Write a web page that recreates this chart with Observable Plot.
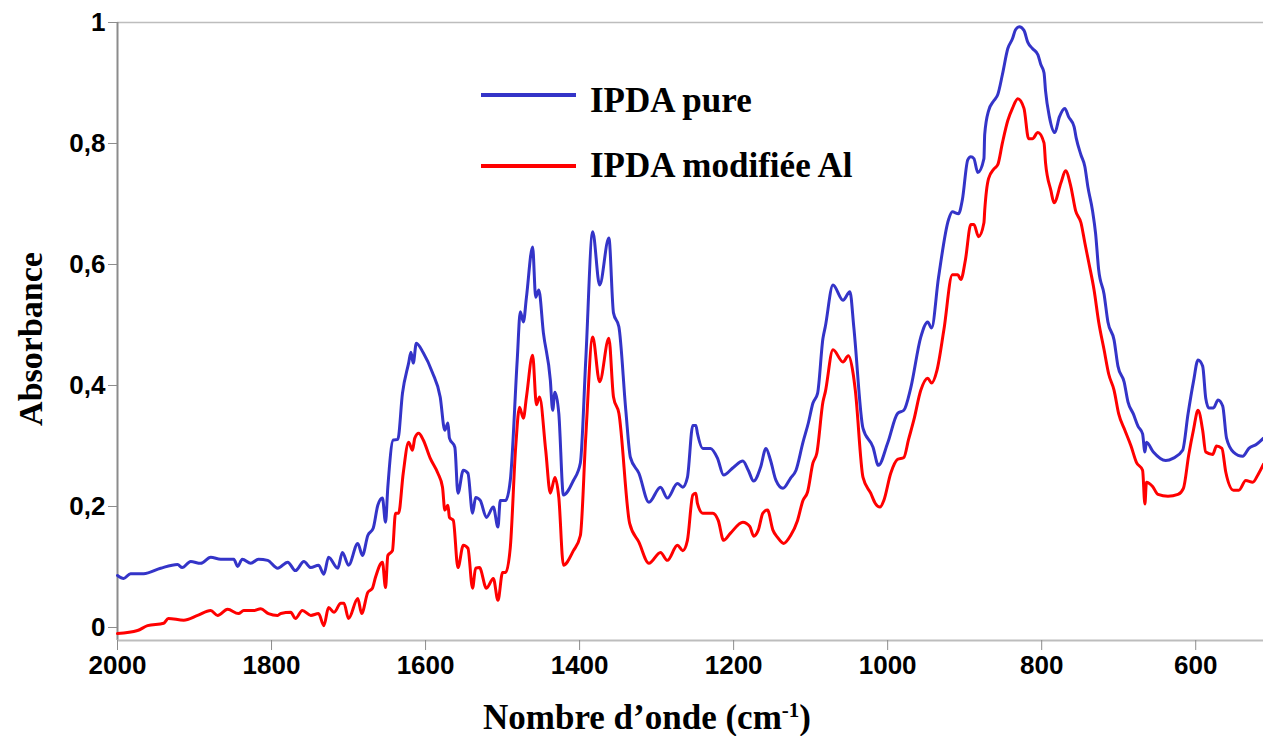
<!DOCTYPE html>
<html>
<head>
<meta charset="utf-8">
<script src="https://cdn.jsdelivr.net/npm/d3@7"></script>
<script src="https://cdn.jsdelivr.net/npm/@observablehq/plot@0.6"></script>
<style>
  html, body { margin: 0; padding: 0; background: #fff; }
  #wrap { position: relative; width: 1263px; height: 736px; overflow: hidden; }
  #overlay { position: absolute; left: 0; top: 0; pointer-events: none; }
</style>
</head>
<body>
<div id="wrap"></div>
<script>
// ---- Data ----
const seriesNames = ["IPDA pure", "IPDA modifiée Al"];
const seriesColors = ["#3434c8", "#ff0000"];

const purWave = [2000,1992,1983,1966,1944,1922,1916,1905,1892,1879,1866,1849,1844,1838,1827,1817,1805,1792,1779,1769,1758,1749,1739,1732,1726,1714,1708,1700,1688,1682,1675,1668,1662,1656,1652,1649,1642,1636,1630,1622,1619,1616,1612,1603,1591,1581,1575,1571,1569,1562,1558,1551,1545,1539,1535,1529,1521,1512,1506,1503,1496,1490,1481,1477,1473,1469,1461,1457,1453,1447,1438,1435,1432,1427,1421,1408,1399,1392,1383,1374,1362,1356,1349,1340,1334,1323,1310,1295,1286,1273,1266,1260,1253,1249,1247,1240,1230,1221,1213,1200,1188,1181,1174,1165,1158,1152,1145,1136,1126,1119,1110,1103,1097,1091,1084,1081,1071,1058,1049,1044,1032,1019,1012,1000,987,979,970,957,948,943,934,921,916,908,903,896,892,888,883,875,874,869,862,857,851,844,838,834,829,823,818,812,805,801,797,795,790,783,777,770,765,758,755,749,744,740,734,730,726,719,714,706,701,693,688,681,675,669,666,664,655,639,629,617,610,603,597,591,587,583,577,571,565,560,551,539,531,521,512];
const purAbs = [0.086,0.081,0.089,0.089,0.098,0.104,0.099,0.109,0.106,0.116,0.113,0.113,0.101,0.113,0.106,0.113,0.111,0.098,0.108,0.094,0.109,0.099,0.103,0.088,0.116,0.098,0.124,0.103,0.139,0.119,0.152,0.164,0.202,0.214,0.174,0.232,0.310,0.311,0.387,0.437,0.455,0.437,0.470,0.454,0.421,0.381,0.326,0.338,0.313,0.298,0.222,0.260,0.255,0.189,0.215,0.210,0.182,0.199,0.166,0.210,0.210,0.243,0.442,0.522,0.505,0.546,0.629,0.546,0.558,0.487,0.409,0.359,0.389,0.354,0.219,0.243,0.272,0.442,0.654,0.566,0.644,0.520,0.497,0.359,0.281,0.255,0.207,0.232,0.214,0.238,0.232,0.248,0.334,0.334,0.321,0.296,0.296,0.280,0.252,0.265,0.275,0.260,0.242,0.265,0.296,0.276,0.243,0.230,0.247,0.260,0.306,0.338,0.371,0.387,0.478,0.497,0.566,0.541,0.555,0.497,0.329,0.298,0.268,0.305,0.354,0.359,0.396,0.480,0.505,0.495,0.578,0.674,0.687,0.684,0.707,0.773,0.778,0.775,0.752,0.775,0.815,0.854,0.871,0.881,0.914,0.957,0.973,0.988,0.993,0.987,0.967,0.957,0.947,0.930,0.917,0.887,0.844,0.818,0.844,0.858,0.844,0.828,0.808,0.781,0.762,0.728,0.689,0.651,0.591,0.551,0.505,0.475,0.432,0.406,0.373,0.353,0.333,0.320,0.290,0.306,0.290,0.276,0.280,0.293,0.353,0.406,0.442,0.432,0.379,0.363,0.363,0.376,0.366,0.313,0.290,0.283,0.296,0.303,0.313];

const modWave = [2000,1974,1961,1940,1934,1914,1896,1879,1870,1857,1843,1836,1823,1814,1804,1792,1788,1775,1769,1760,1749,1739,1732,1726,1719,1710,1706,1700,1688,1683,1675,1669,1665,1656,1652,1649,1643,1639,1635,1629,1622,1617,1614,1609,1603,1594,1584,1578,1575,1571,1569,1564,1558,1551,1545,1539,1535,1530,1521,1512,1506,1500,1496,1490,1483,1478,1473,1469,1461,1456,1452,1444,1438,1432,1427,1421,1408,1399,1392,1383,1374,1362,1356,1349,1335,1323,1310,1295,1286,1273,1266,1260,1253,1249,1247,1240,1227,1220,1213,1204,1188,1179,1174,1168,1162,1156,1149,1143,1135,1126,1117,1110,1104,1097,1092,1084,1081,1071,1058,1051,1045,1042,1032,1022,1016,1010,1005,996,987,979,973,966,957,948,943,936,927,916,909,905,899,892,888,882,875,874,869,862,857,851,844,838,831,823,817,812,805,797,795,788,784,775,769,762,756,749,744,739,732,726,719,713,706,700,692,684,677,669,666,664,656,649,636,623,616,609,603,597,591,587,578,573,566,561,551,544,535,526,519,512];
const modAbs = [-0.010,-0.005,0.003,0.007,0.015,0.012,0.020,0.028,0.020,0.030,0.023,0.028,0.028,0.031,0.023,0.020,0.023,0.025,0.015,0.028,0.020,0.023,0.003,0.033,0.025,0.040,0.040,0.015,0.048,0.023,0.058,0.065,0.083,0.108,0.066,0.119,0.127,0.189,0.189,0.255,0.306,0.293,0.313,0.321,0.310,0.280,0.255,0.232,0.194,0.202,0.182,0.177,0.099,0.136,0.131,0.065,0.098,0.099,0.065,0.081,0.045,0.091,0.091,0.132,0.298,0.364,0.346,0.381,0.450,0.368,0.381,0.293,0.222,0.248,0.215,0.103,0.127,0.152,0.315,0.480,0.406,0.478,0.381,0.354,0.172,0.141,0.106,0.124,0.111,0.136,0.127,0.144,0.219,0.222,0.205,0.189,0.189,0.177,0.144,0.156,0.174,0.167,0.151,0.161,0.189,0.194,0.161,0.149,0.139,0.152,0.177,0.210,0.224,0.272,0.288,0.373,0.389,0.459,0.439,0.449,0.421,0.392,0.248,0.222,0.205,0.199,0.210,0.255,0.278,0.281,0.310,0.343,0.392,0.412,0.404,0.425,0.492,0.583,0.583,0.575,0.608,0.666,0.666,0.646,0.669,0.689,0.742,0.758,0.765,0.801,0.838,0.858,0.874,0.858,0.808,0.808,0.818,0.801,0.768,0.722,0.702,0.735,0.755,0.728,0.689,0.669,0.636,0.604,0.558,0.505,0.459,0.419,0.392,0.353,0.326,0.300,0.273,0.260,0.204,0.240,0.233,0.220,0.217,0.220,0.230,0.286,0.326,0.359,0.326,0.290,0.286,0.300,0.296,0.257,0.227,0.227,0.243,0.240,0.253,0.270];

const xDomain = [2000, 512];
const yDomain = [-0.0215, 1];
const xTicks = [2000, 1800, 1600, 1400, 1200, 1000, 800, 600];
const yTicks = [0, 0.2, 0.4, 0.6, 0.8, 1];
const yTickLabels = ["0", "0,2", "0,4", "0,6", "0,8", "1"];
const xTitle = "Nombre d’onde (cm";
const xTitleSup = "-1";
const yTitle = "Absorbance";

// ---- Build tables ----
const pure = purWave.map((w, i) => ({w, a: purAbs[i]}));
const mod = modWave.map((w, i) => ({w, a: modAbs[i]}));

const W = 1263, H = 736;
const tickFont = "'Liberation Sans', Arial, sans-serif";

const chart = Plot.plot({
  width: W,
  height: H,
  marginLeft: 117,
  marginRight: 0,
  marginTop: 22,
  marginBottom: 96,
  style: {background: "#fff", color: "#000", overflow: "visible"},
  x: {domain: xDomain, label: null},
  y: {domain: yDomain, label: null},
  marks: [
    Plot.ruleY([yDomain[1]], {stroke: "#bdbdbd", strokeWidth: 1.5}),
    Plot.ruleX([xDomain[0]], {stroke: "#8c8c8c", strokeWidth: 2}),
    Plot.ruleY([yDomain[0]], {stroke: "#bdbdbd", strokeWidth: 2}),
    Plot.axisX({
      ticks: xTicks, tickSize: 10, tickPadding: 5,
      tickFormat: d => String(d),
      fontSize: 26, fontWeight: "bold", fontFamily: tickFont,
      stroke: "#8c8c8c", fill: "#000", label: null
    }),
    Plot.axisY({
      ticks: yTicks, tickSize: 9, tickPadding: 3,
      tickFormat: d => yTickLabels[yTicks.indexOf(d)],
      fontSize: 26, fontWeight: "bold", fontFamily: tickFont,
      stroke: "#8c8c8c", fill: "#000", label: null
    }),
    Plot.line(mod, {x: "w", y: "a", stroke: seriesColors[1], strokeWidth: 3, curve: "monotone-x"}),
    Plot.line(pure, {x: "w", y: "a", stroke: seriesColors[0], strokeWidth: 3, curve: "monotone-x"})
  ]
});

const wrap = document.getElementById("wrap");
wrap.appendChild(chart);

// ---- Overlay: legend and axis titles ----
const ns = "http://www.w3.org/2000/svg";
const ov = document.createElementNS(ns, "svg");
ov.setAttribute("id", "overlay");
ov.setAttribute("width", W);
ov.setAttribute("height", H);
const serif = "'Liberation Serif', 'Times New Roman', serif";

const legendRows = [{lineY: 95, textY: 112}, {lineY: 166, textY: 177}];
seriesNames.forEach((name, i) => {
  const ln = document.createElementNS(ns, "line");
  ln.setAttribute("x1", 481); ln.setAttribute("x2", 576);
  ln.setAttribute("y1", legendRows[i].lineY); ln.setAttribute("y2", legendRows[i].lineY);
  ln.setAttribute("stroke", seriesColors[i]); ln.setAttribute("stroke-width", 4);
  ov.appendChild(ln);
  const t = document.createElementNS(ns, "text");
  t.setAttribute("x", 590); t.setAttribute("y", legendRows[i].textY);
  t.setAttribute("font-family", serif); t.setAttribute("font-size", 35);
  t.setAttribute("font-weight", "bold"); t.setAttribute("fill", "#000");
  t.textContent = name;
  ov.appendChild(t);
});

const xt = document.createElementNS(ns, "text");
xt.setAttribute("x", 647); xt.setAttribute("y", 729);
xt.setAttribute("text-anchor", "middle");
xt.setAttribute("font-family", serif); xt.setAttribute("font-size", 35);
xt.setAttribute("font-weight", "bold"); xt.setAttribute("fill", "#000");
const ts1 = document.createElementNS(ns, "tspan");
ts1.textContent = xTitle;
const ts2 = document.createElementNS(ns, "tspan");
ts2.textContent = xTitleSup;
ts2.setAttribute("font-size", 21); ts2.setAttribute("dy", -12);
const ts3 = document.createElementNS(ns, "tspan");
ts3.textContent = ")";
ts3.setAttribute("dy", 12);
xt.appendChild(ts1); xt.appendChild(ts2); xt.appendChild(ts3);
ov.appendChild(xt);

const yt = document.createElementNS(ns, "text");
yt.setAttribute("transform", "translate(42,339) rotate(-90)");
yt.setAttribute("text-anchor", "middle");
yt.setAttribute("font-family", serif); yt.setAttribute("font-size", 34);
yt.setAttribute("font-weight", "bold"); yt.setAttribute("fill", "#000");
yt.textContent = yTitle;
ov.appendChild(yt);

wrap.appendChild(ov);
</script>
</body>
</html>
